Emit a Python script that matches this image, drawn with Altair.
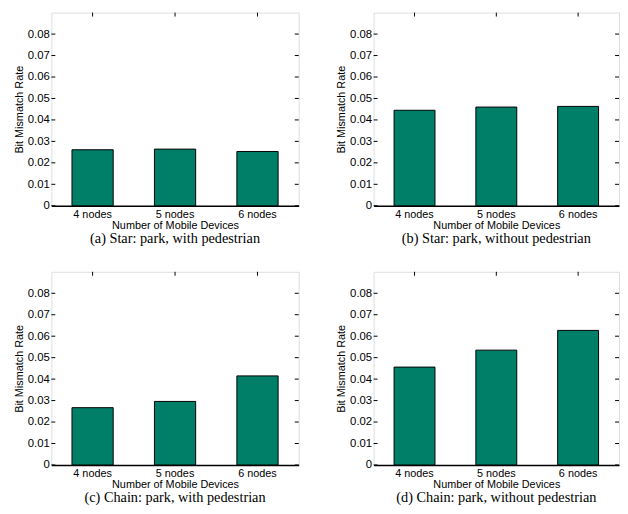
import altair as alt
import pandas as pd

categories = ["4 nodes", "5 nodes", "6 nodes"]
star_with = [0.0261, 0.0264, 0.0253]
star_without = [0.0445, 0.0460, 0.0463]
chain_with = [0.0267, 0.0296, 0.0415]
chain_without = [0.0456, 0.0535, 0.0627]
captions = [
    "(a) Star: park, with pedestrian",
    "(b) Star: park, without pedestrian",
    "(c) Chain: park, with pedestrian",
    "(d) Chain: park, without pedestrian",
]
y_ticks = [0, 0.01, 0.02, 0.03, 0.04, 0.05, 0.06, 0.07, 0.08]

BAR = "#007f68"
SANS = "Liberation Sans"
SERIF = "Liberation Serif"

XAXIS = alt.Axis(labelAngle=0, ticks=False, domainWidth=1.5,
                 domainColor="black", labelFont=SANS,
                 labelFontSize=11, labelColor="black",
                 titleFont=SANS, titleFontSize=11,
                 titleFontWeight="normal", titleColor="black",
                 labelPadding=3, titlePadding=0)
YAXIS = alt.Axis(values=y_ticks, format="~g", ticks=False,
                 domain=False, grid=False, labelFont=SANS,
                 labelFontSize=11.5, labelColor="black",
                 labelOverlap=False, labelPadding=2,
                 titleFont=SANS, titleFontSize=11,
                 titleFontWeight="normal",
                 titleColor="black", titlePadding=3)
XTITLE = "Number of Mobile Devices"
YTITLE = "Bit Mismatch Rate"


def panel(values, caption, w):
    df = pd.DataFrame({"cat": categories, "val": values})
    tick_df = pd.DataFrame({"t": y_ticks})
    xscale = alt.Scale(domain=categories, paddingInner=0.5, paddingOuter=0.25)
    yscale = alt.Scale(domain=[0, 0.09], nice=False)
    bars = alt.Chart(df).mark_bar(
        color=BAR, stroke="black", strokeWidth=1
    ).encode(
        x=alt.X("cat:N", scale=xscale, sort=categories, title=XTITLE, axis=XAXIS),
        y=alt.Y("val:Q", scale=yscale, title=YTITLE, axis=YAXIS),
    )
    left_ticks = alt.Chart(tick_df).mark_rule(color="black", strokeWidth=1).encode(
        y=alt.Y("t:Q", scale=yscale, title=YTITLE, axis=YAXIS),
        x=alt.value(0), x2=alt.value(4)
    )
    right_ticks = alt.Chart(tick_df).mark_rule(color="black", strokeWidth=1).encode(
        y=alt.Y("t:Q", scale=yscale, title=YTITLE, axis=YAXIS),
        x=alt.value(w - 4), x2=alt.value(w)
    )
    cat_df = pd.DataFrame({"cat": categories})
    top_ticks = alt.Chart(cat_df).mark_rule(color="black", strokeWidth=1).encode(
        x=alt.X("cat:N", scale=xscale, sort=categories, title=XTITLE, axis=XAXIS),
        y=alt.value(0), y2=alt.value(4)
    )
    return alt.layer(bars, left_ticks, right_ticks, top_ticks).properties(
        width=w, height=196,
        title=alt.TitleParams(caption, orient="bottom", font=SERIF,
                              fontSize=14.5, fontWeight="normal",
                              color="black", offset=2),
    )


top = alt.hconcat(panel(star_with, captions[0], 251),
                  panel(star_without, captions[1], 249), spacing=36)
bottom = alt.hconcat(panel(chain_with, captions[2], 251),
                     panel(chain_without, captions[3], 249), spacing=36)
chart = alt.vconcat(top, bottom, spacing=25).properties(
    padding={"left": 5, "top": 0, "right": 0, "bottom": 0}
).configure_view(
    stroke="black", strokeWidth=1
).configure(background="white")

chart.save("out.html", embed_options={"renderer": "svg", "actions": False})
